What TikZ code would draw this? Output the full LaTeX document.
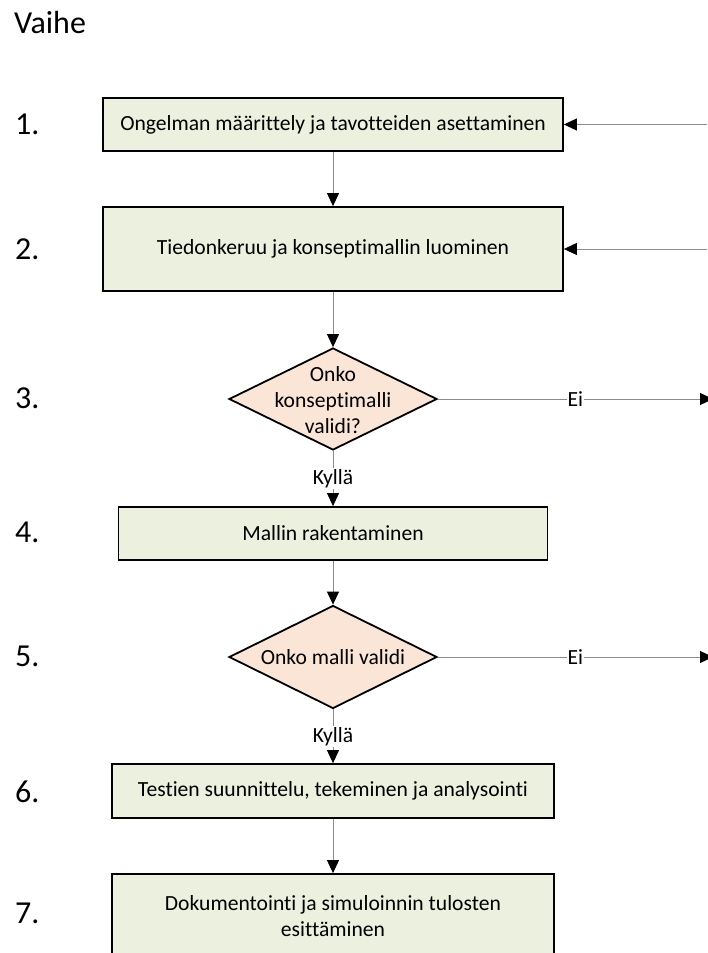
\documentclass[tikz,border=0pt]{standalone}
\usepackage{fontspec}
\setmainfont{Carlito}[Ligatures={NoCommon}]
\usetikzlibrary{shapes.geometric,arrows.meta}
\definecolor{stepfill}{HTML}{EBF1DE}
\definecolor{decfill}{HTML}{FBE5D6}
\definecolor{linkgray}{HTML}{8C8C8C}
\begin{document}
\begin{tikzpicture}[x=1pt,y=-1pt,
  stepbox/.style={draw=black, line width=1.8pt, fill=stepfill, rectangle,
    inner sep=0pt, align=center, font=\fontsize{21.6}{26.5}\selectfont},
  decbox/.style={draw=black, line width=1.8pt, fill=decfill, diamond,
    inner sep=0pt, minimum width=208pt, minimum height=102pt},
  dectext/.style={align=center, inner sep=0pt, font=\fontsize{21.6}{26}\selectfont},
  phase/.style={anchor=west, inner sep=0pt, font=\fontsize{32}{38}\selectfont},
  link/.style={draw=linkgray, line width=1pt,
    -{Triangle[length=13pt,width=12pt,color=black]}},
  lbl/.style={fill=white, inner sep=1pt, font=\fontsize{21.6}{26}\selectfont}]

\useasboundingbox (0,0) rectangle (707,953);

% heading and phase numbers
\node[anchor=base west, inner sep=0pt, font=\fontsize{32}{38}\selectfont] (title) at (14,33) {Vaihe};
\node[phase] (n1) at (15,124) {1.};
\node[phase] (n2) at (15,249) {2.};
\node[phase] (n3) at (15,398) {3.};
\node[phase] (n4) at (15,532) {4.};
\node[phase] (n5) at (15,656) {5.};
\node[phase] (n6) at (15,792) {6.};
\node[phase] (n7) at (15,913) {7.};

% process steps and decisions
\node[stepbox, minimum width=460pt, minimum height=53pt] (s1) at (333,124.5)
  {Ongelman määrittely ja tavotteiden asettaminen};
\node[stepbox, minimum width=460pt, minimum height=84pt] (s2) at (333,249)
  {Tiedonkeruu ja konseptimallin luominen};
\node[decbox] (d3) at (333,399) {};
\node[dectext] (d3text) at (333,400) {Onko\\konseptimalli\\validi?};
\node[stepbox, minimum width=429pt, minimum height=53pt] (s4) at (333,533.5)
  {Mallin rakentaminen};
\node[decbox, minimum height=103pt] (d5) at (333,657) {};
\node[dectext] (d5text) at (333,657) {Onko malli validi};
\node[stepbox, minimum width=442pt, minimum height=54pt] (s6) at (333,791)
  {Testien suunnittelu, tekeminen ja analysointi};
\node[stepbox, minimum width=442pt, minimum height=84pt] (s7) at (333,916)
  {Dokumentointi ja simuloinnin tulosten\\esittäminen};

% main flow
\draw[link] (s1) -- (s2);
\draw[link] (s2) -- (d3);
\draw[link] (d3) -- node[lbl] {Kyllä} (s4);
\draw[link] (s4) -- (d5);
\draw[link] (d5) -- node[lbl] {Kyllä} (s6);
\draw[link] (s6) -- (s7);

% feedback lines
\coordinate (r1) at (707,124.5);
\coordinate (r2) at (707,249);
\coordinate (e3) at (713,399);
\coordinate (e5) at (713,657);
\draw[link] (r1) -- (s1);
\draw[link] (r2) -- (s2);
\draw[link] (d3) -- node[lbl] {Ei} (e3);
\draw[link] (d5) -- node[lbl] {Ei} (e5);
\end{tikzpicture}
\end{document}
